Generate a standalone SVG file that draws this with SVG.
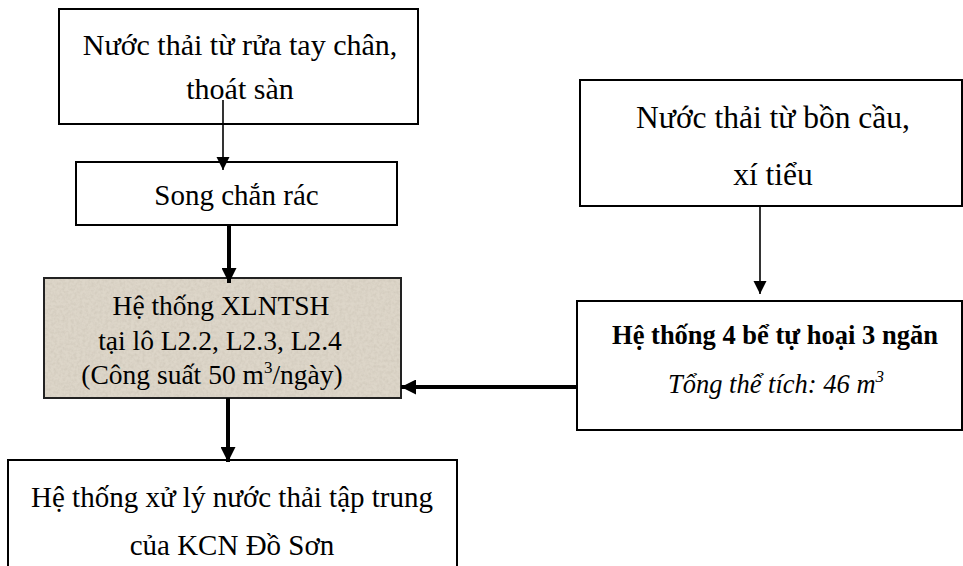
<svg xmlns="http://www.w3.org/2000/svg" width="963" height="566" viewBox="0 0 963 566">
  <style>
    .box { fill: #ffffff; stroke: #000000; stroke-width: 2; }
    .tan { fill: #ddd6c9; stroke: #222222; stroke-width: 2; }
    .t { font-family: "Liberation Serif", "Times New Roman", serif; fill: #000000; text-anchor: middle; }
    .thin { stroke: #000000; stroke-width: 1.6; fill: none; }
    .thick { stroke: #000000; stroke-width: 4; fill: none; }
  </style>
  <defs>
    <filter id="grain" x="0" y="0" width="100%" height="100%">
      <feTurbulence type="fractalNoise" baseFrequency="0.35" numOctaves="2" seed="4" result="n"/>
      <feColorMatrix in="n" type="matrix" values="0 0 0 0 0.55  0 0 0 0 0.5  0 0 0 0 0.42  0 0 0 -1.6 1.05"/>
      <feComposite in2="SourceGraphic" operator="in"/>
    </filter>
    <marker id="headThin" viewBox="0 0 10 10" refX="10" refY="5" markerUnits="userSpaceOnUse" markerWidth="13" markerHeight="15" orient="auto">
      <path d="M0,0 L10,5 L0,10 Z" fill="#000000"/>
    </marker>
    <marker id="headThick" viewBox="0 0 10 10" refX="10" refY="5" markerUnits="userSpaceOnUse" markerWidth="15" markerHeight="15" orient="auto">
      <path d="M0,0 L10,5 L0,10 Z" fill="#000000"/>
    </marker>
  </defs>

  <!-- source: hand washing / floor drains -->
  <g id="node-handwash">
    <rect class="box" x="59" y="9" width="359" height="115"/>
    <text class="t" x="240" y="55" font-size="30">Nước thải từ rửa tay chân,</text>
    <text class="t" x="240" y="99" font-size="30">thoát sàn</text>
  </g>

  <!-- bar screen -->
  <g id="node-screen">
    <rect class="box" x="76" y="162" width="321" height="63"/>
    <text class="t" x="236.5" y="205" font-size="29">Song chắn rác</text>
  </g>

  <!-- domestic wastewater treatment plant -->
  <g id="node-plant">
    <rect class="tan" x="44" y="278" width="357" height="120"/>
    <rect x="45" y="279" width="355" height="118" fill="#ffffff" filter="url(#grain)" opacity="0.5"/>
    <text class="t" x="221" y="315" font-size="27.5">Hệ thống XLNTSH</text>
    <text class="t" x="220" y="350" font-size="27.5"> tại lô L2.2, L2.3, L2.4</text>
    <text class="t" x="212" y="384" font-size="27.5">(Công suất 50 m<tspan font-size="17" dy="-11">3</tspan><tspan dy="11">/ngày)</tspan></text>
  </g>

  <!-- source: toilets / urinals -->
  <g id="node-toilet">
    <rect class="box" x="580" y="80" width="382" height="126"/>
    <text class="t" x="773" y="128" font-size="31.5">Nước thải từ bồn cầu,</text>
    <text class="t" x="773" y="185" font-size="31.5">xí tiểu</text>
  </g>

  <!-- septic tanks -->
  <g id="node-septic">
    <rect class="box" x="577" y="301" width="385" height="129"/>
    <text class="t" x="775" y="344" font-size="26.5" font-weight="bold">Hệ thống 4 bể tự hoại 3 ngăn</text>
    <text class="t" x="776" y="393" font-size="26.5" font-style="italic">Tổng thể tích: 46 m<tspan font-size="17" dy="-11">3</tspan></text>
  </g>

  <!-- industrial park central treatment -->
  <g id="node-central">
    <rect class="box" x="8" y="460" width="449" height="120"/>
    <text class="t" x="232" y="507" font-size="29">Hệ thống xử lý nước thải tập trung</text>
    <text class="t" x="232" y="555" font-size="29">của KCN Đồ Sơn</text>
  </g>

  <g id="connectors">
    <line class="thin" x1="223" y1="100" x2="223" y2="170" marker-end="url(#headThin)"/>
    <line class="thick" x1="229" y1="225" x2="229" y2="283" marker-end="url(#headThick)"/>
    <line class="thin" x1="760" y1="206" x2="760" y2="294" marker-end="url(#headThin)"/>
    <line class="thick" x1="577" y1="387" x2="401" y2="387" marker-end="url(#headThick)"/>
    <line class="thick" x1="228" y1="398" x2="228" y2="462" marker-end="url(#headThick)"/>
  </g>
</svg>
